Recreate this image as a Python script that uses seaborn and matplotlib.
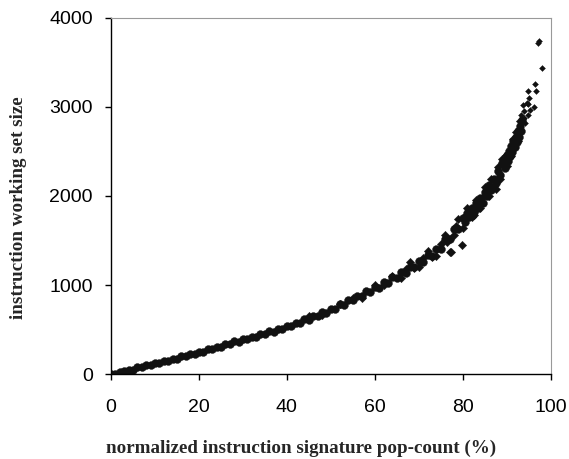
import matplotlib
matplotlib.use("Agg")
import matplotlib.pyplot as plt
import pandas as pd
import seaborn as sns

# main dense band of points (signature pop-count %, working set size)
band_x = [0, 1, 2, 3, 4, 5, 6, 7, 8, 9, 10, 11, 12, 13, 14, 15, 16, 17, 18, 19,
          20, 21, 22, 23, 24, 25, 26, 27, 28, 29, 30, 31, 32, 33, 34, 35, 36, 37, 38, 39,
          40, 41, 42, 43, 44, 45, 46, 47, 48, 49, 50, 51, 52, 53, 54, 55, 56, 57, 58, 59,
          60, 61, 62, 63, 64, 65, 66, 67, 68, 69, 70, 71, 72, 73, 74, 75, 76, 77, 78, 79,
          80, 80.5, 81, 81.5, 82, 82.5, 83, 83.5, 84, 84.5, 85, 85.5, 86, 86.5, 87, 87.5,
          88, 88.5, 89, 89.5, 90, 90.25, 90.5, 90.75, 91, 91.25, 91.5, 91.75, 92, 92.25,
          92.5, 92.75, 93, 93.25, 93.5]
band_y = [2, 4, 28, 30, 49, 50, 74, 75, 97, 98, 121, 122, 148, 150, 172, 175, 200, 201, 226, 228,
          252, 253, 281, 282, 308, 309, 337, 338, 366, 365, 393, 392, 422, 420, 450, 448, 479, 477, 510, 507,
          540, 540, 578, 575, 614, 611, 653, 650, 693, 690, 735, 733, 782, 780, 831, 828, 880, 875, 930, 922,
          978, 972, 1030, 1022, 1085, 1075, 1143, 1136, 1208, 1198, 1275, 1258, 1336, 1322, 1408, 1405, 1518, 1515, 1632, 1628,
          1752, 1712, 1808, 1762, 1862, 1815, 1916, 1866, 1972, 1925, 2046, 1998, 2122, 2068, 2196, 2146,
          2285, 2232, 2372, 2318, 2460, 2392, 2510, 2444, 2562, 2496, 2612, 2552, 2668, 2606,
          2726, 2668, 2790, 2730, 2850]

# looser points along the edges of the band
edge_x = [45, 48, 52, 55, 57, 60, 62, 64, 66, 67, 68, 69, 70, 71, 72, 73, 74, 75, 76, 76.5,
          77, 77.4, 78, 78.5, 79, 79.7, 80, 80.5, 81, 81.5, 82, 82.5, 83, 83.5, 84, 84.5,
          85, 85.5, 86, 86.5, 87, 87.5, 88, 88.5, 89, 89.5, 90, 90.5, 91, 91.5, 92, 92.5, 93]
edge_y = [655, 665, 790, 860, 860, 995, 995, 1100, 1080, 1180, 1260, 1190, 1200, 1300, 1380, 1320,
          1330, 1460, 1560, 1480, 1375, 1375, 1560, 1660, 1740, 1450, 1640, 1780, 1870, 1830,
          1760, 1790, 1960, 1950, 1870, 1990, 2100, 2070, 2000, 2190, 2110, 2080, 2330, 2190,
          2420, 2400, 2340, 2430, 2450, 2640, 2720, 2620, 2840]

# sparse points at the top end of the curve
top_x = [97.1, 97.3, 98.0, 96.4, 96.7, 94.8, 93.6, 96.1, 94.7, 94.9, 95.3, 94.9, 93.3, 94.1,
         89.5, 91.4, 94.0, 93.8, 95.0]
top_y = [3715, 3745, 3442, 3255, 3180, 3180, 3022, 3003, 3041, 3034, 2966, 2910, 2910, 2817,
         2461, 2592, 2950, 2880, 3100]

x_ticks = [0, 20, 40, 60, 80, 100]
y_ticks = [0, 1000, 2000, 3000, 4000]

sns.set_theme(style="white")
plt.rcParams["font.family"] = ["Liberation Sans", "DejaVu Sans"]

fig = plt.figure(figsize=(5.69, 4.59), dpi=100)
ax = fig.add_axes([0.195, 0.185, 0.773, 0.776])

band = pd.DataFrame({"x": band_x, "y": band_y})
edge = pd.DataFrame({"x": edge_x, "y": edge_y})
top = pd.DataFrame({"x": top_x, "y": top_y})

sns.scatterplot(data=band, x="x", y="y", ax=ax, s=32, marker="o",
                color="#111111", edgecolor="#111111", linewidth=0.3)
sns.scatterplot(data=edge, x="x", y="y", ax=ax, s=18, marker="D",
                color="#111111", edgecolor="#111111", linewidth=0.3)
sns.scatterplot(data=top, x="x", y="y", ax=ax, s=9, marker="D",
                color="#111111", edgecolor="#111111", linewidth=0.3)

ax.set_xlim(0, 100)
ax.set_ylim(0, 4000)
ax.set_xticks(x_ticks)
ax.set_yticks(y_ticks)

for side in ["left", "bottom"]:
    ax.spines[side].set_color("black")
    ax.spines[side].set_linewidth(1.0)
for side in ["top", "right"]:
    ax.spines[side].set_color("#999999")
    ax.spines[side].set_linewidth(0.8)

ax.tick_params(axis="both", which="major", direction="out", length=4,
               width=1, color="black", labelsize=14, labelcolor="black")
ax.tick_params(axis="x", pad=14, bottom=True)
ax.tick_params(axis="y", pad=9, left=True)

label_font = {"family": ["Liberation Serif", "DejaVu Serif"], "weight": "bold", "size": 13.7}
ax.set_xlabel("normalized instruction signature pop-count (%)", fontdict=label_font)
ax.set_ylabel("instruction working set size", fontdict=label_font)
ax.xaxis.set_label_coords(0.432, -0.183)
ax.yaxis.set_label_coords(-0.19, 0.466)

fig.savefig("out.png", dpi=100)
